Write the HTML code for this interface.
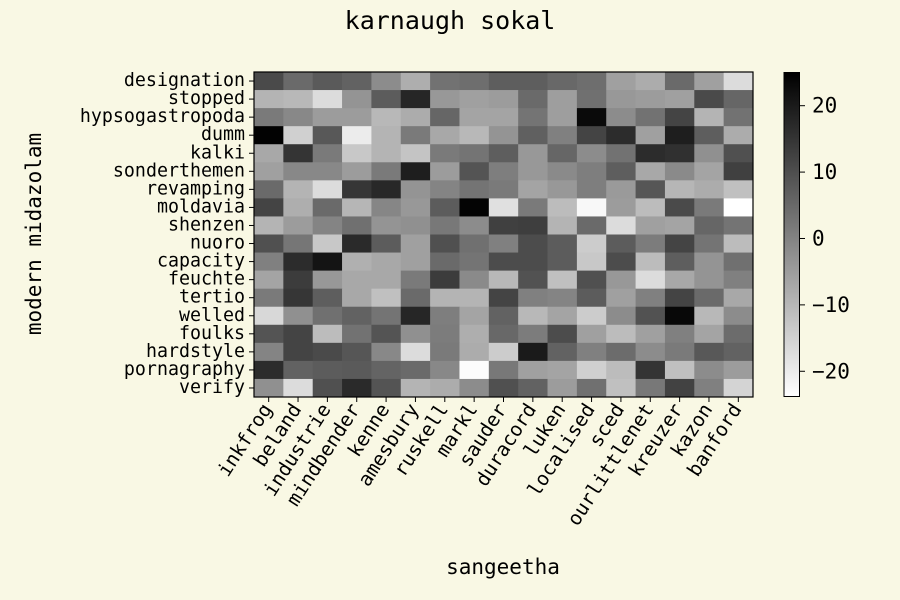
<!DOCTYPE html>
<html><head><meta charset="utf-8"><style>
html,body{margin:0;padding:0;background:#f9f8e4;}
svg{display:block;font-family:"DejaVu Sans Mono","Liberation Mono",monospace;}
</style></head><body>
<svg id="chart" width="900" height="600" viewBox="0 0 900 600" xmlns="http://www.w3.org/2000/svg">
<rect x="0" y="0" width="900" height="600" fill="#f9f8e4"/>
<text x="450" y="29" text-anchor="middle" font-size="25" fill="#000">karnaugh sokal</text>
<g id="cells"></g>
<g id="axes"></g>
<text x="503" y="574" text-anchor="middle" font-size="21">sangeetha</text>
<text transform="translate(41,234) rotate(-90)" text-anchor="middle" font-size="21">modern midazolam</text>
<defs><linearGradient id="cbgrad" x1="0" y1="1" x2="0" y2="0"><stop offset="0" stop-color="#fff"/><stop offset="1" stop-color="#000"/></linearGradient></defs>
<rect x="784" y="72.5" width="15.5" height="324" fill="url(#cbgrad)" stroke="#000" stroke-width="1"/>
<g id="cbticks"></g>
</svg>
<script>
const rows = ["designation","stopped","hypsogastropoda","dumm","kalki","sonderthemen","revamping","moldavia","shenzen","nuoro","capacity","feuchte","tertio","welled","foulks","hardstyle","pornagraphy","verify"];
const cols = ["inkfrog","beland","industrie","mindbender","kenne","amesbury","ruskell","markl","sauder","duracord","luken","localised","sced","ourlittlenet","kreuzer","kazon","banford"];
const values = [
[10.8,4.7,7.8,6.2,-1.8,-8.3,3.2,3.9,7.0,7.0,5.1,3.9,-5.6,-7.9,4.7,-5.6,-17.1],
[-9.5,-10.2,-17.1,-3.3,7.4,17.7,-4.1,-5.6,-4.9,4.7,-5.2,3.6,-4.1,-4.9,-5.6,10.8,5.5],
[1.6,-1.0,-4.9,-4.9,-10.2,-7.9,5.5,-6.4,-6.4,2.8,-5.2,23.1,-1.8,3.2,12.0,-9.5,3.2],
[24.6,-14.8,8.2,-20.2,-9.5,1.6,-7.2,-10.2,-3.3,6.6,0.5,12.0,16.6,-5.6,19.3,7.0,-7.9],
[-7.2,15.0,1.6,-13.3,-9.5,-12.5,1.6,2.8,7.0,-4.1,5.5,-1.8,3.2,16.6,15.8,-2.6,9.7],
[-5.6,-1.0,-1.0,-4.9,1.6,19.3,-4.9,8.9,0.9,-4.1,-1.4,0.9,7.0,-7.2,-1.4,-6.4,12.7],
[4.7,-9.5,-17.1,14.7,17.3,-3.3,-0.3,2.8,1.6,-6.4,-4.1,0.9,-4.5,8.5,-9.8,-7.9,-11.7],
[12.0,-8.3,4.7,-9.8,-0.6,-4.1,7.4,24.2,-17.9,1.6,-11.0,-22.5,-4.9,-11.0,10.8,1.6,-23.8],
[-9.5,-4.9,-0.3,3.6,-3.3,-2.6,2.0,-1.8,12.7,13.1,-9.5,4.7,-17.1,-5.6,-6.4,5.5,2.8],
[9.7,2.4,-13.3,17.0,7.4,-5.6,9.7,3.6,0.5,10.5,7.4,-14.0,7.4,1.3,12.0,2.8,-11.0],
[0.5,16.6,21.2,-8.7,-7.2,-5.6,4.7,2.8,10.5,10.5,7.4,-13.3,10.5,-11.0,7.0,-3.3,3.6],
[-6.4,13.5,-4.1,-7.2,-7.2,1.6,13.5,-1.4,-10.2,9.3,-11.7,9.7,-4.1,-17.1,-7.2,-3.3,0.5],
[1.6,14.7,7.0,-7.2,-11.7,4.7,-9.5,-9.5,12.0,0.5,-0.3,7.4,-5.6,0.5,12.0,4.7,-7.2],
[-16.3,-2.6,3.6,6.2,2.8,17.7,0.9,-6.4,6.2,-10.2,-6.4,-14.0,-1.8,9.3,23.5,-10.2,-1.8],
[8.9,12.0,-11.0,3.2,8.9,-2.6,1.3,-8.3,5.1,1.3,10.5,-5.6,-11.0,-5.6,0.5,-6.4,4.3],
[-0.3,12.0,10.8,8.5,-1.0,-17.1,1.6,-7.9,-14.0,20.0,6.2,0.5,4.3,-1.8,1.6,8.2,6.2],
[16.6,6.2,7.4,7.8,5.9,4.7,-1.0,-23.2,2.0,-5.6,-6.4,-14.8,-11.0,15.0,-11.7,-1.8,-4.9],
[-2.6,-17.1,9.7,17.0,8.9,-9.5,-7.9,-1.8,9.7,6.2,-4.9,3.6,-11.7,2.0,12.4,0.5,-15.6]
];
const cbTicks = [20,10,0,-10,-20];
const cbTickLabels = ["20","10","0","\u221210","\u221220"];

const NS="http://www.w3.org/2000/svg";
const X0=254,X1=753,Y0=72,Y1=397;
const VMIN=-23.8,VMAX=25;
const cw=(X1-X0)/cols.length, ch=(Y1-Y0)/rows.length;
function xPos(i){return X0+i*cw;}
function yPos(j){return Y0+j*ch;}
function cbY(v){return 396.5-(v-VMIN)/(VMAX-VMIN)*324;}
function color(v){let t=(v-VMIN)/(VMAX-VMIN);t=Math.max(0,Math.min(1,t));const g=Math.round(255*(1-t));return `rgb(${g},${g},${g})`;}
function mk(tag,attrs,parent){const e=document.createElementNS(NS,tag);for(const k in attrs)e.setAttribute(k,attrs[k]);parent.appendChild(e);return e;}
const cells=document.getElementById('cells');
values.forEach((row,j)=>row.forEach((v,i)=>{
  const r=mk('rect',{x:xPos(i),y:yPos(j),width:cw+0.4,height:ch+0.4,fill:color(v)},cells);
  
  
}));
const axes=document.getElementById('axes');
const frame=mk('rect',{x:X0,y:Y0,width:X1-X0,height:Y1-Y0,fill:'none',stroke:'#000','stroke-width':1.2},axes);


rows.forEach((r,j)=>{
  const y=yPos(j)+ch/2;
  mk('line',{x1:X0-5,x2:X0,y1:y,y2:y,stroke:'#000','stroke-width':1},axes);
  const t=mk('text',{x:X0-9,y:y+5,'text-anchor':'end','font-size':18.3},axes);
  t.textContent=r;
  
  
});
cols.forEach((c,i)=>{
  const x=xPos(i)+cw/2;
  mk('line',{x1:x,x2:x,y1:Y1,y2:Y1+5,stroke:'#000','stroke-width':1},axes);
  const t=mk('text',{transform:`translate(${x+4},${Y1+12}) rotate(-57)`,'text-anchor':'end','font-size':19.5},axes);
  t.textContent=c;
  
  
});
const cbg=document.getElementById('cbticks');
cbTicks.forEach((v,k)=>{
  const y=cbY(v);
  mk('line',{x1:800,x2:805,y1:y,y2:y,stroke:'#000','stroke-width':1},cbg);
  const t=mk('text',{x:812,y:y+7,'font-size':21},cbg);
  t.textContent=cbTickLabels[k];
  
  
});
</script>
</body></html>
